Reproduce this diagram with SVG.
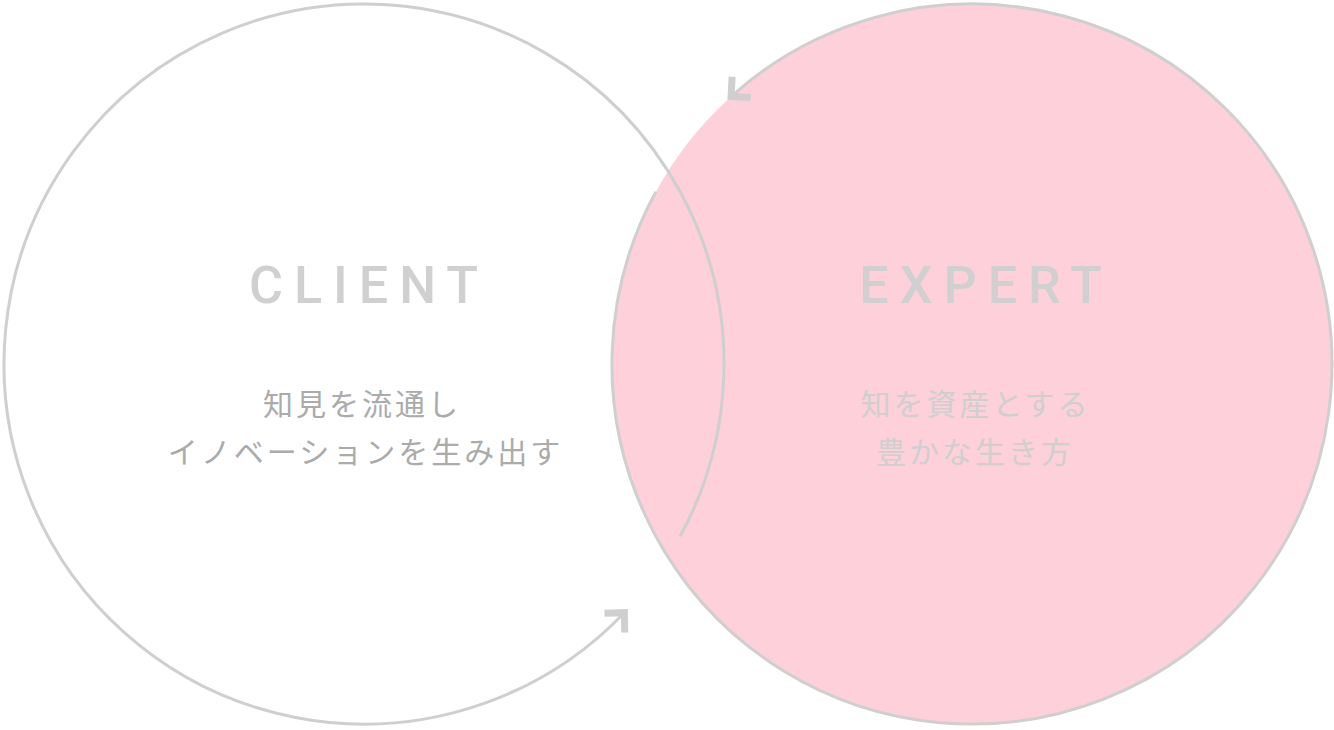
<svg xmlns="http://www.w3.org/2000/svg" width="1334" height="730" viewBox="0 0 1334 730">
  <style>
    .ring { fill: none; stroke: #cfcfcf; stroke-width: 3; }
    .title { font-family: Roboto, "Liberation Sans", sans-serif; font-weight: 500; font-size: 52px; letter-spacing: 11px; fill: #d0d0d0; text-anchor: middle; }
    .sub { font-family: "Noto Sans CJK JP", "Noto Sans", sans-serif; font-weight: 400; font-size: 30px; letter-spacing: 3px; text-anchor: middle; }
    .sub-l { fill: #ababab; }
    .sub-r { fill: #cfcfcf; }
  </style>
  <defs>
    <marker id="chev" markerUnits="userSpaceOnUse" viewBox="-24 -24 48 48" markerWidth="48" markerHeight="48" refX="0" refY="0" orient="auto" overflow="visible">
      <path d="M -14 -14 L 0 0 L -14 14" fill="none" stroke="#cfcfcf" stroke-width="7" stroke-linejoin="miter" stroke-miterlimit="10"/>
    </marker>
  </defs>
  <rect width="1334" height="730" fill="#ffffff"/>
  <g id="client">
    <circle cx="364" cy="364" r="360" fill="#ffffff"/>
  </g>
  <g id="expert">
    <circle cx="972" cy="364" r="360" fill="#fdd0da"/>
  </g>
  <g id="connectors">
    <path class="ring" d="M 680.1 536.3 A 360 360 0 1 0 624.3 612.7" marker-end="url(#chev)"/>
    <path class="ring" d="M 655.9 191.7 A 360 360 0 1 0 731.1 96.5" marker-end="url(#chev)"/>
  </g>
  <g id="client-text">
    <text class="title" x="369" y="303">CLIENT</text>
    <text class="sub sub-l" x="362" y="415">知見を流通し</text>
    <text class="sub sub-l" x="365.5" y="463">イノベーションを生み出す</text>
  </g>
  <g id="expert-text">
    <text class="title" x="986" y="303">EXPERT</text>
    <text class="sub sub-r" x="975.5" y="415">知を資産とする</text>
    <text class="sub sub-r" x="975" y="463">豊かな生き方</text>
  </g>
</svg>
